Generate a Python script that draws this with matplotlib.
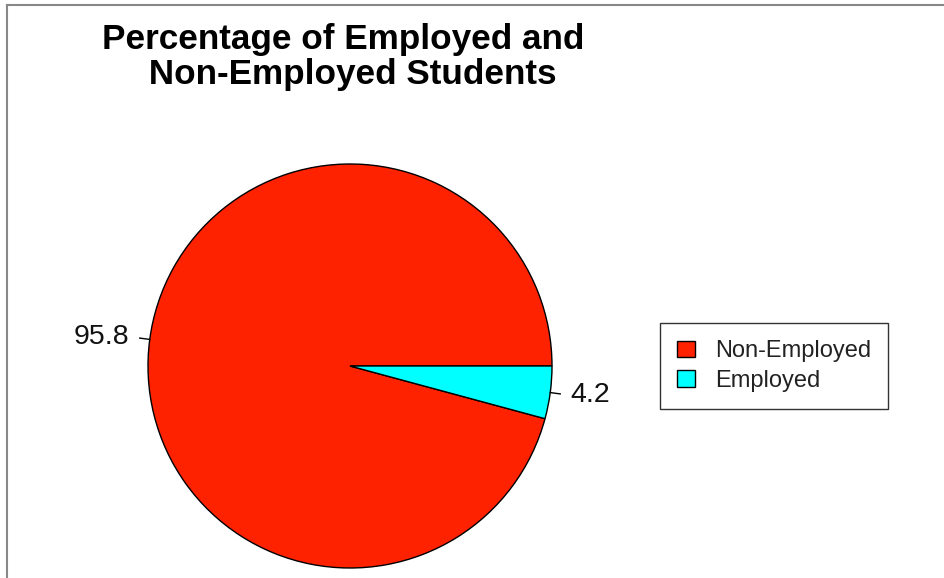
import numpy as np
import matplotlib.pyplot as plt
from matplotlib.lines import Line2D

plt.rcParams['font.family'] = ['Liberation Sans', 'DejaVu Sans']

# employment status of the surveyed students, in percent
groups = ['Non-Employed', 'Employed']
percents = [95.8, 4.2]
colors = ['#FF2200', '#00FFFF']

W, H = 945, 578
fig = plt.figure(figsize=(W / 100, H / 100), dpi=100)
ax = fig.add_axes([0, 0, 1, 1])

cx, cy, r = 350, H - 366, 202

# R-style pie: start at 3 o'clock, go counter-clockwise
wedges, _ = ax.pie(percents, colors=colors, startangle=0, counterclock=True,
                   center=(cx, cy), radius=r, frame=True,
                   wedgeprops=dict(edgecolor='black', linewidth=1.0))
ax.set_xlim(0, W)
ax.set_ylim(0, H)
ax.set_aspect('equal')
ax.axis('off')

# small tick and value label at each slice's mid angle
start = 0.0
for p in percents:
    mid = np.deg2rad(start + p / 100 * 360 / 2)
    start += p / 100 * 360
    c, s = np.cos(mid), np.sin(mid)
    ax.plot([cx + r * c, cx + 1.05 * r * c], [cy + r * s, cy + 1.05 * r * s],
            color='black', lw=1.0)
    ax.text(cx + 1.1 * r * c, cy + 1.1 * r * s, f'{p:g}', fontsize=20.5,
            ha='left' if c > 0 else 'right', va='center', color='#111111')

fig.text(348 / W, 1 - 57 / H, 'Percentage of Employed and \n Non-Employed Students',
         ha='center', va='center', fontsize=25.3, fontweight='bold',
         linespacing=1.1)

leg = ax.legend(wedges, groups, loc='center',
                bbox_to_anchor=(774 / W, 1 - 366 / H), bbox_transform=fig.transFigure,
                fontsize=17, frameon=True, fancybox=False, edgecolor='black',
                handlelength=0.75, handleheight=0.7, handletextpad=0.85,
                labelspacing=0.3, borderpad=0.72, borderaxespad=0)
leg.get_frame().set_linewidth(1.0)
for t in leg.get_texts():
    t.set_color('#222222')

# screenshot frame on the top and left edges
fig.add_artist(Line2D([7 / W, 1], [1 - 5 / H, 1 - 5 / H], color='#888888', lw=1.5,
                      transform=fig.transFigure))
fig.add_artist(Line2D([7 / W, 7 / W], [0, 1 - 5 / H], color='#888888', lw=1.5,
                      transform=fig.transFigure))

fig.savefig('out.png', dpi=100, facecolor='white')
